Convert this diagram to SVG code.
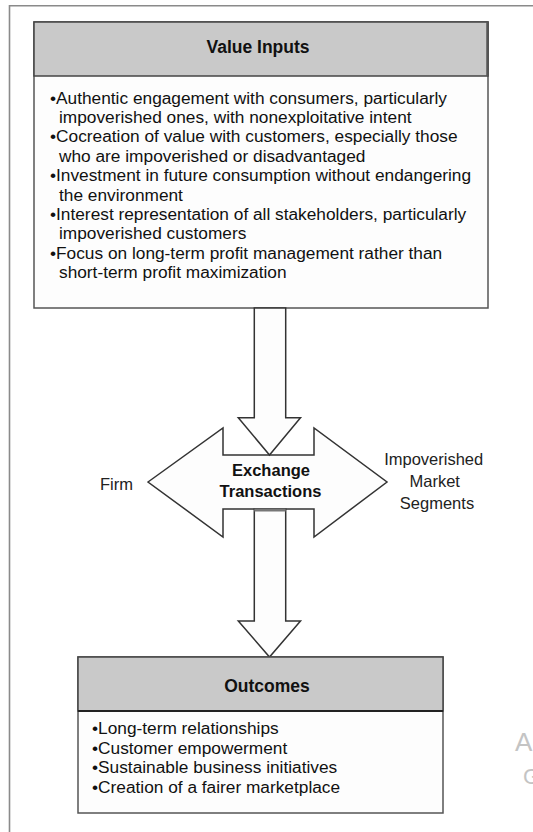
<svg xmlns="http://www.w3.org/2000/svg" width="533" height="832" viewBox="0 0 533 832">
<style>
.t{font-family:"Liberation Sans",Arial,sans-serif;fill:#111;}
.body{font-size:17.3px;}
.hd{font-size:17.5px;font-weight:bold;}
.ex{font-size:16.5px;font-weight:bold;}
.lbl{font-size:16.5px;fill:#222;}
.hdr{fill:#c9c9c9;stroke:#444;stroke-width:1.5;}
.bx{fill:#fdfdfd;stroke:#555;stroke-width:1.5;}
.arw{fill:#fdfdfd;stroke:#333;stroke-width:1.5;stroke-linejoin:miter;}
.wm{font-family:"Liberation Sans",Arial,sans-serif;fill:#c4c4c4;}
</style>
<rect width="533" height="832" fill="#ffffff"/>
<g id="frame">
<path d="M9.5,840 L9.5,5.7 L540,5.7" fill="none" stroke="#8a8a8a" stroke-width="1.6"/>
</g>
<g id="value-inputs">
<rect class="bx" x="34" y="22" width="454" height="286"/>
<rect class="hdr" x="34" y="22" width="454" height="54"/>
<line x1="487.5" y1="22" x2="487.5" y2="76" stroke="#555" stroke-width="2.5"/>
<text class="t hd" x="258" y="53" text-anchor="middle">Value Inputs</text>
<text class="t body">
<tspan x="50" y="103.5">•Authentic engagement with consumers, particularly</tspan>
<tspan x="59" y="122.9">impoverished ones, with nonexploitative intent</tspan>
<tspan x="50" y="142.3">•Cocreation of value with customers, especially those</tspan>
<tspan x="59" y="161.7">who are impoverished or disadvantaged</tspan>
<tspan x="50" y="181.1">•Investment in future consumption without endangering</tspan>
<tspan x="59" y="200.5">the environment</tspan>
<tspan x="50" y="219.9">•Interest representation of all stakeholders, particularly</tspan>
<tspan x="59" y="239.3">impoverished customers</tspan>
<tspan x="50" y="258.7">•Focus on long-term profit management rather than</tspan>
<tspan x="59" y="278.1">short-term profit maximization</tspan>
</text>
</g>
<g id="exchange-transactions">
<polygon class="arw" points="148,482 223,428 223,455 314,455 314,428 387,482 314,537 314,509 223,509 223,537"/>
<text class="t ex" x="271" y="476" text-anchor="middle">Exchange</text>
<text class="t ex" x="270.5" y="497" text-anchor="middle">Transactions</text>
</g>
<g id="firm">
<text class="t lbl" x="100" y="490">Firm</text>
</g>
<g id="impoverished-market-segments">
<text class="t lbl" text-anchor="middle">
<tspan x="436" y="465">Impoverished</tspan>
<tspan x="437" y="487">Market</tspan>
<tspan x="437" y="509">Segments</tspan>
</text>
</g>
<g id="connectors">
<polygon class="arw" points="254.3,308 285.7,308 285.7,417.7 300.5,417.7 269.5,455 238.3,417.7 254.3,417.7"/>
<polygon class="arw" points="254.3,509 285.7,509 285.7,621 300.5,621 269.5,657 238.3,621 254.3,621"/>
<rect x="254.3" y="508.5" width="31.4" height="3" fill="#777"/>
</g>
<g id="outcomes">
<rect class="bx" x="78" y="657" width="365" height="156"/>
<rect class="hdr" x="78" y="657" width="365" height="54"/>
<line x1="78" y1="711" x2="443" y2="711" stroke="#222" stroke-width="2"/>
<text class="t hd" x="267" y="692" text-anchor="middle">Outcomes</text>
<text class="t body">
<tspan x="92" y="734">•Long-term relationships</tspan>
<tspan x="92" y="753.5">•Customer empowerment</tspan>
<tspan x="92" y="773">•Sustainable business initiatives</tspan>
<tspan x="92" y="792.5">•Creation of a fairer marketplace</tspan>
</text>
</g>
<g id="watermark">
<text class="wm" x="515" y="751" font-size="26">A</text>
<text class="wm" x="523" y="784" font-size="22">G</text>
</g>
</svg>
